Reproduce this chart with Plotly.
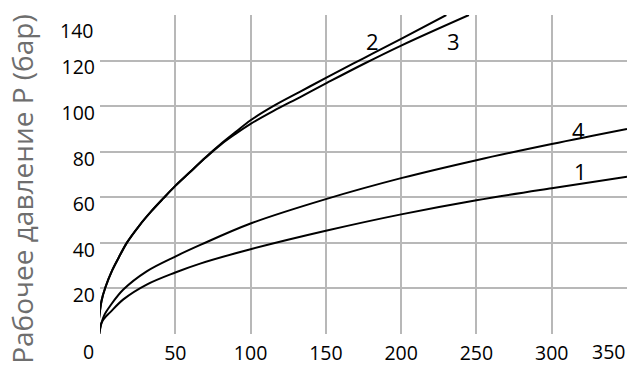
import plotly.graph_objects as go

# Curve data (flow vs. working pressure)
x2 = [-1.3, 1, 3.6, 8, 12.4, 18, 26, 34, 42, 50, 60, 70, 80, 90, 100, 115, 133, 151, 175, 200, 230]
y2 = [2.5, 14.5, 20.5, 27.8, 33.5, 40.2, 47.5, 53.8, 59.5, 65, 71.2, 77.5, 83.3, 88.6, 93.8, 100, 106.4, 112.7, 121, 129.5, 140]

x3 = [-1.3, 1, 3.6, 8, 12.4, 18, 26, 34, 42, 50, 60, 70, 80, 90, 100, 115, 133, 151, 175, 200, 245]
y3 = [2.5, 14.5, 20.5, 27.8, 33.5, 40.2, 47.5, 53.8, 59.5, 65, 71.2, 77.3, 83, 87.8, 92.2, 97.8, 104, 110.3, 118.5, 126.6, 140]

x4 = [-1.3, 0.9, 3, 6.7, 15.5, 31, 50, 67, 100, 150, 200, 250, 300, 350]
y4 = [-4, 4.7, 8.5, 12.3, 19.5, 27.5, 34, 39.2, 48.5, 59.2, 68.4, 76.3, 83.4, 90]

x1 = [-1.3, 0.9, 3, 6.7, 15.5, 31, 50, 67, 100, 150, 200, 250, 300, 350]
y1 = [-4, 4.7, 7, 9.5, 15.2, 21.7, 27, 31, 37.2, 45.3, 52.5, 58.7, 64, 69]

curve_labels = ["2", "3", "4", "1"]
label_x = [181, 234.5, 318, 319]
label_y = [128.5, 128.5, 89.5, 71.5]

x_ticks = [0, 50, 100, 150, 200, 250, 300, 350]
x_ticktext = ["", "50", "100", "150", "200", "250", "300", ""]
y_ticks = [0, 20, 40, 60, 80, 100, 120, 140]
y_ticktext = ["", "20", "40", "60", "80", "100", "120", ""]

y_title = "Рабочее давление P (бар)"

FONT = "Open Sans"
TICK_SIZE = 19.5

fig = go.Figure()
for xs, ys in [(x1, y1), (x4, y4), (x3, y3), (x2, y2)]:
    fig.add_trace(go.Scatter(x=xs, y=ys, mode="lines",
                             line=dict(color="black", width=2, shape="spline", smoothing=1.0),
                             showlegend=False, hoverinfo="skip"))

for t, lx, ly in zip(curve_labels, label_x, label_y):
    fig.add_annotation(x=lx, y=ly, text=t, showarrow=False,
                       font=dict(family=FONT, size=22, color="black"))

# corner "0", end "350" and top "140" labels
tick_font = dict(family=FONT, size=TICK_SIZE, color="black")
fig.add_annotation(x=0, y=0, text="0", showarrow=False, xshift=-12, yshift=-17,
                   font=tick_font)
fig.add_annotation(x=350, y=0, text="350", showarrow=False, xanchor="right", yshift=-17,
                   font=tick_font)
fig.add_annotation(x=0, y=140, text="140", showarrow=False, xanchor="right", xshift=-5,
                   yshift=-15, font=tick_font)

fig.add_annotation(xref="paper", yref="paper", x=-0.148, y=0.455, text=y_title,
                   textangle=-90, showarrow=False, xanchor="center", yanchor="middle",
                   font=dict(family=FONT, size=28, color="#6e6e6e"))

grid = dict(showgrid=True, gridcolor="#b8b8b8", gridwidth=1.5, zeroline=False,
            showline=False, ticks="", automargin=False, tickfont=tick_font)

fig.update_xaxes(range=[0, 350], tickvals=x_ticks, ticktext=x_ticktext,
                 ticklabelstandoff=5, **grid)
fig.update_yaxes(range=[0, 140], tickvals=y_ticks, ticktext=y_ticktext,
                 ticklabelshift=7, ticklabelstandoff=4, **grid)

fig.update_layout(width=641, height=377, autosize=False,
                  margin=dict(l=100, r=14, t=15, b=43),
                  paper_bgcolor="white", plot_bgcolor="white",
                  font=dict(family=FONT))

fig.write_html("out.html")
